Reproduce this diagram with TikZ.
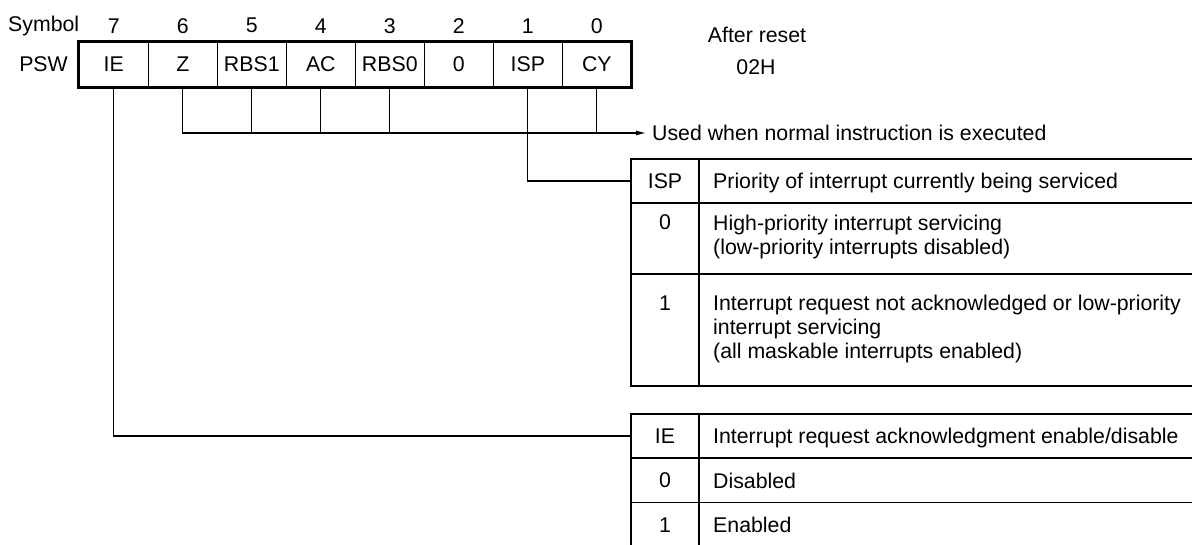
\documentclass[tikz,border=0pt]{standalone}
\usepackage{fontspec}
\setmainfont{Liberation Sans}
\usetikzlibrary{arrows.meta}
\begin{document}
\begin{tikzpicture}[x=1pt,y=-1pt,
  font=\fontsize{21.3}{24}\selectfont,
  thickln/.style={line width=2.8pt},
  midln/.style={line width=1.8pt},
  thinln/.style={line width=1.1pt},
  conn/.style={line width=1.1pt, black},
  cell/.style={draw, line width=1.1pt, minimum width=69pt, minimum height=45pt, inner sep=0pt, anchor=center},
  lbl/.style={inner sep=0pt, anchor=center},
  key/.style={inner sep=0pt, anchor=center, minimum width=68pt},
  desc/.style={inner sep=0pt, anchor=north west, align=left},
]
\useasboundingbox (0,0) rectangle (1192,544);

% register cells
\foreach \t [count=\i from 0] in {IE,Z,RBS1,AC,RBS0,0,ISP,CY}
  \node[cell] (c\i) at (113.8+69*\i, 64.5) {\t};
\draw[thickln] (c0.north west) rectangle (c7.south east);

% bit numbers
\foreach \n [count=\i from 0] in {7,6,5,4,3,2,1,0}
  \node[lbl] (b\i) at (113.8+69*\i, 25.7) {\n};
\node[lbl, anchor=west] (sym) at (8,25.7) {Symbol};
\node[lbl, anchor=east] (psw) at (68,64.5) {PSW};

\node[lbl] (ar) at (757,35) {After reset};
\node[lbl] (rv) at (756,66.7) {02H};

% normal instruction bus
\node[desc, anchor=west] (used) at (652,133) {Used when normal instruction is executed};
\draw[conn,-{Latex[length=10pt,width=5pt]}] (c1.south) |- ([xshift=-6pt]used.west);
\foreach \i in {2,3,4,7}
  \draw[conn] (c\i.south) -- (c\i.south |- used.west);

% ISP table
\draw[thickln] (1196,159) -- (631,159) -- (631,386) -- (1196,386);
\draw[thickln] (699,159) -- (699,386);
\draw[midln] (631,203) -- (1196,203);
\draw[thinln] (631,274) -- (1196,274);
\node[key] (k1h) at (665,181) {ISP};
\node[desc] (d1h) at (713,173.3) {Priority of interrupt currently being serviced};
\node[key] (k10) at (665,222.5) {0};
\node[desc] (d10) at (713,214.8) {High-priority interrupt servicing\\(low-priority interrupts disabled)};
\node[key] (k11) at (665,303) {1};
\node[desc] (d11) at (713,295.3) {Interrupt request not acknowledged or low-priority\\interrupt servicing\\(all maskable interrupts enabled)};
\draw[conn] (c6.south) |- (k1h.west);

% IE table
\draw[thickln] (1196,414) -- (631,414) -- (631,547) -- (1196,547);
\draw[thickln] (699,414) -- (699,547);
\draw[midln] (631,458.3) -- (1196,458.3);
\draw[thinln] (631,502.7) -- (1196,502.7);
\node[key] (k2h) at (665,436) {IE};
\node[desc] (d2h) at (713,428.3) {Interrupt request acknowledgment enable/disable};
\node[key] (k20) at (665,480.5) {0};
\node[desc] (d20) at (713,472.8) {Disabled};
\node[key] (k21) at (665,525) {1};
\node[desc] (d21) at (713,517.3) {Enabled};
\draw[conn] (c0.south) |- (k2h.west);
\end{tikzpicture}
\end{document}
